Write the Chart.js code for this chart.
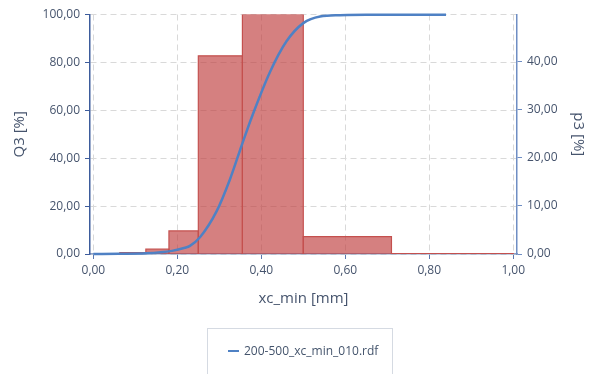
<!DOCTYPE html>
<html>
<head>
<meta charset="utf-8">
<script src="https://cdn.jsdelivr.net/npm/chart.js@4/dist/chart.umd.min.js"></script>
<style>
  html, body { margin: 0; padding: 0; background: #fff; }
  #wrap { position: relative; width: 592px; height: 374px; overflow: hidden; }
  #legend {
    position: absolute; left: 207px; top: 328px; width: 186px; height: 70px;
    border: 1px solid #d5dae2; box-sizing: border-box;
    font-family: "Open Sans", sans-serif; font-size: 12px; color: #44546c;
  }
  #legend .item { position: absolute; left: 20px; top: 13px; white-space: nowrap; }
  #legend .mark { display: inline-block; width: 11px; height: 2px; background: #4f81c4; vertical-align: middle; margin-right: 5px; position: relative; top: -1px; }
</style>
</head>
<body>
<div id="wrap">
  <canvas id="chart" width="592" height="374"></canvas>
  <div id="legend"><div class="item"><span class="mark"></span>200-500_xc_min_010.rdf</div></div>
</div>
<script>
// class edges [mm] and p3 per class [%]
const binEdges = [0.063, 0.125, 0.18, 0.25, 0.355, 0.5, 0.71, 1.0];
const p3Values = [0.3, 1.0, 4.8, 41.2, 49.8, 3.6, 0.1];

// cumulative Q3 curve
const q3X = [0, 0.06, 0.125, 0.187, 0.218, 0.23, 0.254, 0.294, 0.325, 0.353, 0.377, 0.421, 0.46, 0.5, 0.54, 0.587, 0.65, 0.84];
const q3Y = [0, 0.1, 0.3, 1.3, 2.6, 3.4, 7.0, 18.0, 31.0, 45.2, 57.0, 76.1, 88.8, 96.4, 99.2, 99.7, 99.9, 99.9];

const xTicks = [0, 0.2, 0.4, 0.6, 0.8, 1.0];
const q3Ticks = [0, 20, 40, 60, 80, 100];
const p3Ticks = [0, 10, 20, 30, 40];

const fmt = v => Number(v).toFixed(2).replace('.', ',');
const tickColor = '#46546d';
const font = { family: '"Open Sans", sans-serif', size: 12 };
const titleFont = { family: '"Open Sans", sans-serif', size: 15 };

const barSets = p3Values.map((h, i) => ({
  type: 'line',
  yAxisID: 'y2',
  data: [
    { x: binEdges[i], y: 0 }, { x: binEdges[i], y: h },
    { x: binEdges[i + 1], y: h }, { x: binEdges[i + 1], y: 0 }
  ],
  borderColor: '#c4504e',
  borderWidth: 1.2,
  backgroundColor: 'rgba(190,60,60,0.65)',
  fill: 'origin',
  pointRadius: 0,
  tension: 0,
  order: 2
}));

const curve = {
  type: 'line',
  yAxisID: 'y',
  data: q3X.map((x, i) => ({ x, y: q3Y[i] })),
  borderColor: '#4f81c4',
  borderWidth: 2.5,
  pointRadius: 0,
  cubicInterpolationMode: 'monotone',
  fill: false,
  clip: false,
  order: 1
};

const setTicks = vals => scale => { scale.ticks = vals.map(v => ({ value: v })); };

new Chart(document.getElementById('chart'), {
  type: 'line',
  data: { datasets: [curve, ...barSets] },
  options: {
    responsive: false,
    animation: false,
    layout: { padding: { top: 14.5, bottom: 62, left: 0, right: 0 } },
    plugins: { legend: { display: false }, tooltip: { enabled: false } },
    scales: {
      x: {
        type: 'linear',
        min: -0.008, max: 1.009,
        afterBuildTicks: setTicks(xTicks),
        afterFit: s => { s.height = 58; },
        border: { color: '#8ea3c8', width: 1.5, dash: [6, 4] },
        grid: { color: '#d9d9d9', tickColor: '#5b78ad', tickLength: 5, tickBorderDash: [] },
        ticks: { color: tickColor, font, padding: 4, maxRotation: 0, callback: v => fmt(v) },
        title: { display: true, text: 'xc_min [mm]', color: tickColor, font: titleFont, padding: { top: 4, bottom: 4 } }
      },
      y: {
        position: 'left',
        min: 0, max: 100,
        afterBuildTicks: setTicks(q3Ticks),
        afterFit: s => { s.width = 90; },
        border: { color: '#3d5c9c', width: 1.5, dash: [6, 4] },
        grid: { color: '#d9d9d9', tickColor: '#3d5c9c', tickLength: 5, tickBorderDash: [] },
        ticks: { color: tickColor, font, padding: 5, callback: v => fmt(v) },
        title: { display: true, text: 'Q3 [%]', color: tickColor, font: titleFont, padding: { top: 11, bottom: 0 } }
      },
      y2: {
        position: 'right',
        min: 0, max: 49.8,
        afterBuildTicks: setTicks(p3Ticks),
        afterFit: s => { s.width = 75; },
        border: { color: '#6f8ec4', width: 1.5 },
        grid: { drawOnChartArea: false, tickColor: '#6f8ec4', tickLength: 5 },
        ticks: { color: tickColor, font, padding: 5, callback: v => fmt(v) },
        title: { display: true, text: 'p3 [%]', color: tickColor, font: titleFont, padding: { top: 5, bottom: 0 } }
      }
    }
  }
});
</script>
</body>
</html>
